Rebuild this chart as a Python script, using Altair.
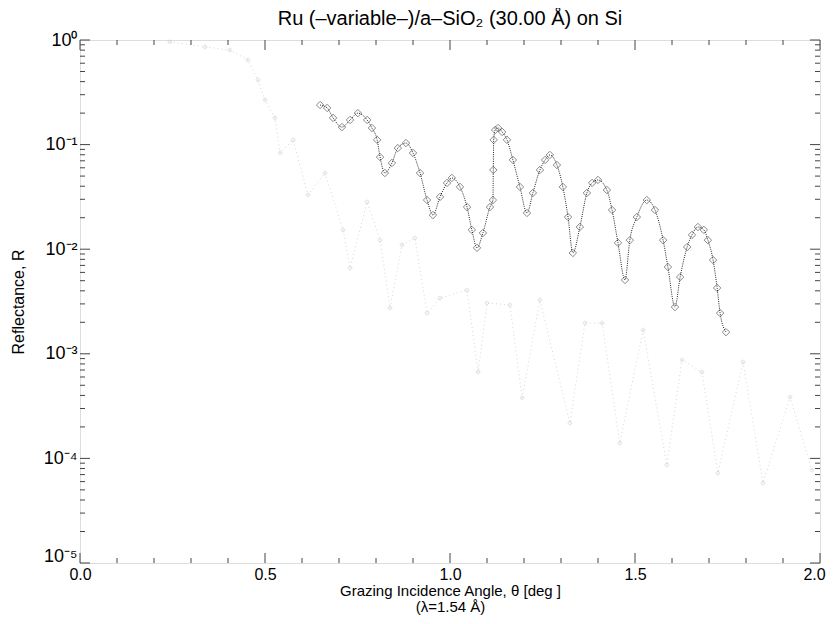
import altair as alt
import pandas as pd

# ---- main measured curve (dark, diamonds) ----
main_theta = [0.649, 0.668, 0.684, 0.708, 0.730, 0.751, 0.776, 0.789, 0.803, 0.811,
              0.824, 0.843, 0.859, 0.881, 0.900, 0.919, 0.938, 0.954, 0.973, 0.992,
              1.005, 1.027, 1.046, 1.059, 1.073, 1.089, 1.108, 1.116, 1.117, 1.118,
              1.122, 1.130, 1.141, 1.154, 1.170, 1.189, 1.208, 1.224, 1.243, 1.257,
              1.270, 1.289, 1.305, 1.319, 1.332, 1.351, 1.370, 1.384, 1.400, 1.424,
              1.438, 1.454, 1.473, 1.486, 1.505, 1.532, 1.554, 1.576, 1.589, 1.608,
              1.622, 1.641, 1.654, 1.670, 1.686, 1.697, 1.711, 1.722, 1.730, 1.746]
main_R = [0.239, 0.224, 0.180, 0.147, 0.172, 0.200, 0.172, 0.144, 0.111, 0.076,
          0.0535, 0.0667, 0.0927, 0.1035, 0.0832, 0.0535, 0.0295, 0.0212, 0.0316, 0.0430,
          0.0480, 0.0394, 0.0253, 0.0153, 0.0103, 0.0143, 0.0253, 0.0295, 0.0572, 0.111,
          0.138, 0.144, 0.132, 0.111, 0.0713, 0.0394, 0.0222, 0.0345, 0.0572, 0.0713,
          0.0796, 0.0638, 0.0394, 0.0203, 0.0092, 0.0163, 0.0345, 0.0430, 0.0459, 0.0368,
          0.0237, 0.0115, 0.00508, 0.0122, 0.0203, 0.0295, 0.0237, 0.0122, 0.00676, 0.00280,
          0.00542, 0.0105, 0.0137, 0.0163, 0.0153, 0.0122, 0.00788, 0.00426, 0.00245, 0.00161]

# ---- faint model curve (light grey dotted) ----
faint_theta = [0.243, 0.338, 0.405, 0.454, 0.481, 0.500, 0.527, 0.541, 0.576, 0.616, 0.662,
               0.711, 0.730, 0.776, 0.811, 0.838, 0.870, 0.905, 0.938, 0.973, 1.046,
               1.076, 1.100, 1.162, 1.195, 1.243, 1.324, 1.365, 1.411, 1.459, 1.522,
               1.586, 1.627, 1.681, 1.724, 1.792, 1.846, 1.919, 1.978]
faint_R = [0.96, 0.857, 0.802, 0.644, 0.415, 0.267, 0.180, 0.0832, 0.111, 0.0330, 0.0535,
           0.0153, 0.0066, 0.0283, 0.0122, 0.00274, 0.0110, 0.0128, 0.00245, 0.00341, 0.00407,
           0.00067, 0.00306, 0.00293, 0.000378, 0.00327, 0.000218, 0.00197, 0.00197, 0.000140, 0.00169,
           0.0000865, 0.000873, 0.00067, 0.0000725, 0.000835, 0.0000582, 0.000386, 0.0000775]

# ---- axis tick values ----
x_major = [0.0, 0.5, 1.0, 1.5, 2.0]
x_minor = [0.1, 0.2, 0.3, 0.4, 0.6, 0.7, 0.8, 0.9, 1.1, 1.2, 1.3, 1.4, 1.6, 1.7, 1.8, 1.9]
y_major = [1.0, 1e-1, 1e-2, 1e-3, 1e-4, 1e-5]
y_minor = [m * d for d in [1e-5, 1e-4, 1e-3, 1e-2, 1e-1] for m in range(2, 10)]

W, H = 740, 523
FONT = "Liberation Sans"

xs = alt.Scale(domain=[0, 2], nice=False)
ys = alt.Scale(type="log", domain=[1e-5, 1], nice=False)

main_df = pd.DataFrame({"theta": main_theta, "R": main_R})
faint_df = pd.DataFrame({"theta": faint_theta, "R": faint_R})

x_axis = alt.Axis(values=x_major, format=".1f", ticks=False, domain=False, grid=False,
                  labelFlush=False, labelOverlap=False,
                  labelOffset={"condition": {"test": "datum.value > 1.99", "value": -6}, "value": 0},
                  labelFont=FONT, labelFontSize=16, labelColor="#000", labelPadding=3,
                  title=["Grazing Incidence Angle, \u03b8 [deg ]", "(\u03bb=1.54 \u00c5)"],
                  titleFont=FONT, titleFontSize=15, titleFontWeight="normal",
                  titleColor="#000", titlePadding=1, titleLineHeight=16)
y_axis = alt.Axis(values=y_major, ticks=False, domain=False, grid=False,
                  labelFlush=False, labelOverlap=False,
                  labelOffset={"condition": {"test": "datum.value < 2e-5", "value": -7}, "value": 0},
                  labelExpr="['10\u2070','10\u207b\u00b9','10\u207b\u00b2','10\u207b\u00b3','10\u207b\u2074','10\u207b\u2075'][-round(log(datum.value)/LN10)]",
                  labelFont=FONT, labelFontSize=18, labelColor="#000", labelPadding=3,
                  title="Reflectance, R", titleFont=FONT, titleFontSize=16,
                  titleFontWeight="normal", titleColor="#000", titlePadding=17)


def X(field):
    return alt.X(field, scale=xs, axis=x_axis)


def Y(field):
    return alt.Y(field, scale=ys, axis=y_axis)


faint_line = alt.Chart(faint_df).mark_line(color="#d6d6d6", strokeWidth=1, strokeDash=[1, 3]).encode(
    x=X("theta:Q"), y=Y("R:Q"), order="theta:Q",
)
faint_pts = alt.Chart(faint_df).mark_point(shape="cross", filled=False, color="#cfcfcf",
                                           size=14, strokeWidth=0.7).encode(
    x=X("theta:Q"), y=Y("R:Q"),
)

main_line = alt.Chart(main_df).mark_line(color="#222", strokeWidth=1, strokeDash=[1, 1.2],
                                         interpolate="monotone").encode(
    x=X("theta:Q"), y=Y("R:Q"), order="theta:Q",
)
main_pts = alt.Chart(main_df).mark_point(shape="diamond", filled=False, color="#444",
                                         size=55, strokeWidth=0.9).encode(
    x=X("theta:Q"), y=Y("R:Q"),
)

TICK_C = "#444"


def xticks(vals, length):
    df = pd.DataFrame({"theta": vals})
    bot = alt.Chart(df).mark_rule(color=TICK_C, strokeWidth=1).encode(
        x=X("theta:Q"), y=alt.value(H), y2=alt.value(H - length))
    top = alt.Chart(df).mark_rule(color=TICK_C, strokeWidth=1).encode(
        x=X("theta:Q"), y=alt.value(0), y2=alt.value(length))
    return [bot, top]


def yticks(vals, length):
    df = pd.DataFrame({"R": vals})
    left = alt.Chart(df).mark_rule(color=TICK_C, strokeWidth=1).encode(
        y=Y("R:Q"), x=alt.value(0), x2=alt.value(length))
    right = alt.Chart(df).mark_rule(color=TICK_C, strokeWidth=1).encode(
        y=Y("R:Q"), x=alt.value(W), x2=alt.value(W - length))
    return [left, right]


tick_layers = xticks(x_major, 10) + xticks(x_minor, 5) + yticks(y_major, 10) + yticks(y_minor, 5)

chart = alt.layer(faint_line, faint_pts, *tick_layers, main_line, main_pts).properties(
    width=W, height=H,
    title=alt.TitleParams("Ru (\u2013variable\u2013)/a\u2013SiO\u2082 (30.00 \u00c5) on Si",
                          font=FONT, fontSize=20, fontWeight="normal", color="#000",
                          anchor="middle", offset=2),
    autosize=alt.AutoSizeParams(type="none"),
    padding={"left": 72, "top": 32, "right": 8, "bottom": 53},
).configure_view(stroke="#555", strokeWidth=1).configure(background="white")

chart.save("out.html", embed_options={"renderer": "svg", "actions": False})
